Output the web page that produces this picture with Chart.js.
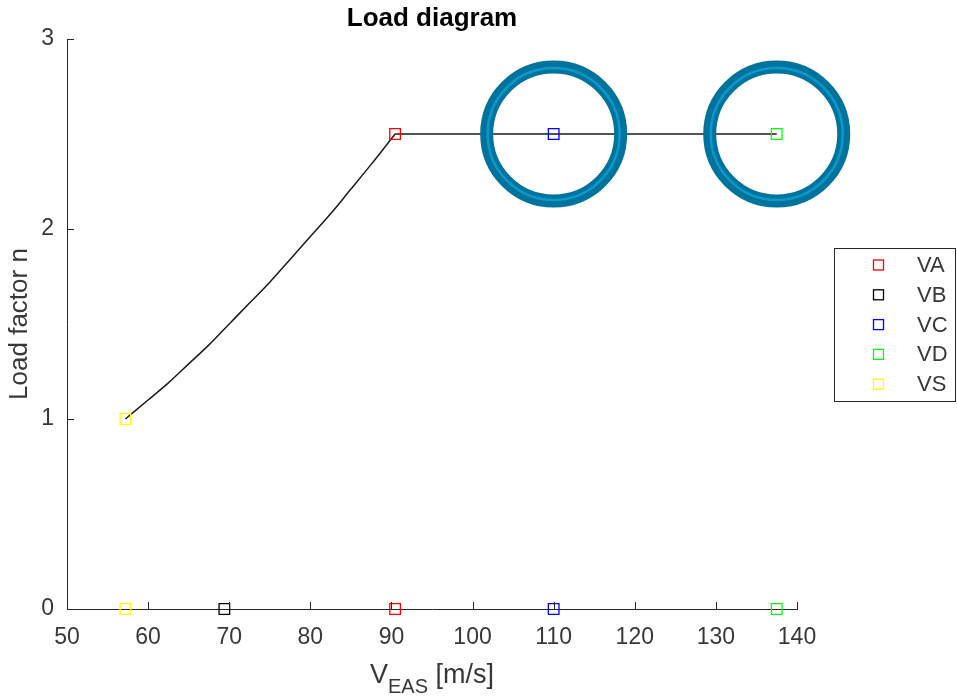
<!DOCTYPE html>
<html>
<head>
<meta charset="utf-8">
<script src="https://cdn.jsdelivr.net/npm/chart.js@4.4.1/dist/chart.umd.min.js"></script>
<style>
  html, body { margin: 0; padding: 0; background: #fff; }
  #wrap { width: 957px; height: 698px; }
</style>
</head>
<body>
<div id="wrap"><canvas id="loadChart" width="957" height="698"></canvas></div>
<script>
// Load diagram data
// curved part of the envelope, VS -> VA
const curve_v = [57.2, 60, 62.5, 65, 67.5, 70, 72.5, 75, 77.5, 80, 82.5, 85, 87.5, 90.45];
const curve_n = [1.00, 1.10, 1.19, 1.29, 1.39, 1.50, 1.61, 1.72, 1.84, 1.96, 2.08, 2.21, 2.34, 2.50];
// straight part, VA -> VD
const flat_v = [90.45, 110, 137.5];
const flat_n = [2.50, 2.50, 2.50];

const speed_names = ['VA', 'VB', 'VC', 'VD', 'VS'];
const speed_colors = ['#ff0000', '#000000', '#0000ff', '#00ff00', '#ffff00'];
const speed_v = [90.45, 69.4, 110, 137.5, 57.2];
const speed_n_top = [2.5, null, 2.5, 2.5, 1.0];   // marker on the envelope
const speed_n_axis = [0, 0, 0, 0, 0];              // marker on the n = 0 line

const x_ticks = [50, 60, 70, 80, 90, 100, 110, 120, 130, 140];
const y_ticks = [0, 1, 2, 3];

// highlighted speeds (rings)
const ringed = ['VC', 'VD'];

const axisColor = '#262626';
const labelColor = '#383838';
const font = "'Liberation Sans', Arial, sans-serif";

const datasets = [{
    label: 'curve',
    data: curve_v.map((v, i) => ({ x: v, y: curve_n[i] })),
    showLine: true,
    borderColor: '#1a1a1a',
    borderWidth: 1.5,
    pointRadius: 0,
    cubicInterpolationMode: 'monotone',
    clip: false,
    order: 10
}, {
    label: 'flat',
    data: flat_v.map((v, i) => ({ x: v, y: flat_n[i] })),
    showLine: true,
    borderColor: '#1a1a1a',
    borderWidth: 1.5,
    pointRadius: 0,
    tension: 0,
    clip: false,
    order: 10
}];

speed_names.forEach((name, i) => {
    const pts = [{ x: speed_v[i], y: speed_n_axis[i] }];
    if (speed_n_top[i] !== null) pts.unshift({ x: speed_v[i], y: speed_n_top[i] });
    datasets.push({
        label: name,
        data: pts,
        pointStyle: 'rect',
        pointRadius: 7.5,
        pointHoverRadius: 7.5,
        pointBorderColor: speed_colors[i],
        pointBackgroundColor: 'rgba(0,0,0,0)',
        pointBorderWidth: 1.3,
        showLine: false,
        clip: false,
        order: 1
    });
});

const overlay = {
    id: 'overlay',
    afterDraw(chart) {
        const ctx = chart.ctx;
        const xs = chart.scales.x, ys = chart.scales.y;
        const area = chart.chartArea;
        ctx.save();

        // inward tick marks
        ctx.strokeStyle = axisColor;
        ctx.lineWidth = 1;
        ctx.beginPath();
        x_ticks.forEach(t => {
            const px = Math.round(xs.getPixelForValue(t)) + 0.5;
            ctx.moveTo(px, area.bottom);
            ctx.lineTo(px, area.bottom - 7);
        });
        y_ticks.forEach(t => {
            const py = Math.round(ys.getPixelForValue(t)) + 0.5;
            ctx.moveTo(area.left, py);
            ctx.lineTo(area.left + 7, py);
        });
        ctx.stroke();

        // title
        const cx = (area.left + area.right) / 2;
        ctx.fillStyle = '#000';
        ctx.textAlign = 'center';
        ctx.textBaseline = 'alphabetic';
        ctx.font = 'bold 26px ' + font;
        ctx.fillText('Load diagram', cx, 26);

        // x axis title with subscript
        ctx.fillStyle = labelColor;
        ctx.textAlign = 'left';
        ctx.font = '27px ' + font;
        const wV = ctx.measureText('V').width;
        const wRest = ctx.measureText(' [m/s]').width;
        ctx.font = '20px ' + font;
        const wSub = ctx.measureText('EAS').width;
        let x0 = cx - (wV + wSub + wRest) / 2;
        ctx.font = '27px ' + font;
        ctx.fillText('V', x0, 683);
        ctx.font = '20px ' + font;
        ctx.fillText('EAS', x0 + wV, 693);
        ctx.font = '27px ' + font;
        ctx.fillText(' [m/s]', x0 + wV + wSub, 683);

        // y axis title
        ctx.save();
        ctx.translate(27, (area.top + area.bottom) / 2);
        ctx.rotate(-Math.PI / 2);
        ctx.textAlign = 'center';
        ctx.font = '26px ' + font;
        ctx.fillText('Load factor n', 0, 0);
        ctx.restore();

        // legend box
        const lx = 834, ly = 248, lw = 121, lh = 153;
        ctx.fillStyle = '#fff';
        ctx.fillRect(lx, ly, lw, lh);
        ctx.strokeStyle = axisColor;
        ctx.lineWidth = 1;
        ctx.strokeRect(lx + 0.5, ly + 0.5, lw, lh);
        ctx.font = '22px ' + font;
        ctx.textBaseline = 'middle';
        ctx.textAlign = 'left';
        speed_names.forEach((name, i) => {
            const ry = ly + 17 + i * 29.8;
            ctx.strokeStyle = speed_colors[i];
            ctx.lineWidth = 1.3;
            ctx.strokeRect(873.5, ry - 5, 10, 10);
            ctx.fillStyle = labelColor;
            ctx.fillText(name, 917, ry + 1);
        });

        // rings around the highlighted speeds
        ringed.forEach(name => {
            const i = speed_names.indexOf(name);
            const px = xs.getPixelForValue(speed_v[i]);
            const py = ys.getPixelForValue(speed_n_top[i]);
            ctx.beginPath();
            ctx.arc(px, py, 67, 0, Math.PI * 2);
            ctx.strokeStyle = '#00739c';
            ctx.lineWidth = 13;
            ctx.stroke();
            ctx.beginPath();
            ctx.arc(px, py, 66, 0, Math.PI * 2);
            ctx.strokeStyle = '#0899cf';
            ctx.lineWidth = 2.5;
            ctx.stroke();
        });

        ctx.restore();
    }
};

new Chart(document.getElementById('loadChart'), {
    type: 'scatter',
    data: { datasets },
    options: {
        responsive: false,
        animation: false,
        devicePixelRatio: 1,
        layout: { padding: { top: 39, right: 160, bottom: 0, left: 0 } },
        scales: {
            x: {
                type: 'linear',
                min: 50,
                max: 140,
                afterFit(scale) { scale.height = 89; },
                afterBuildTicks(scale) { scale.ticks = x_ticks.map(v => ({ value: v })); },
                grid: { display: false, drawTicks: false },
                border: { display: true, color: axisColor, width: 1 },
                ticks: { color: labelColor, padding: 15, maxRotation: 0, autoSkip: false, font: { family: font, size: 23 } }
            },
            y: {
                type: 'linear',
                min: 0,
                max: 3,
                afterFit(scale) { scale.width = 67; },
                afterBuildTicks(scale) { scale.ticks = y_ticks.map(v => ({ value: v })); },
                grid: { display: false, drawTicks: false },
                border: { display: true, color: axisColor, width: 1 },
                ticks: { color: labelColor, padding: 13, font: { family: font, size: 23 } }
            }
        },
        plugins: {
            legend: { display: false },
            tooltip: { enabled: false },
            title: { display: false }
        }
    },
    plugins: [overlay]
});
</script>
</body>
</html>
